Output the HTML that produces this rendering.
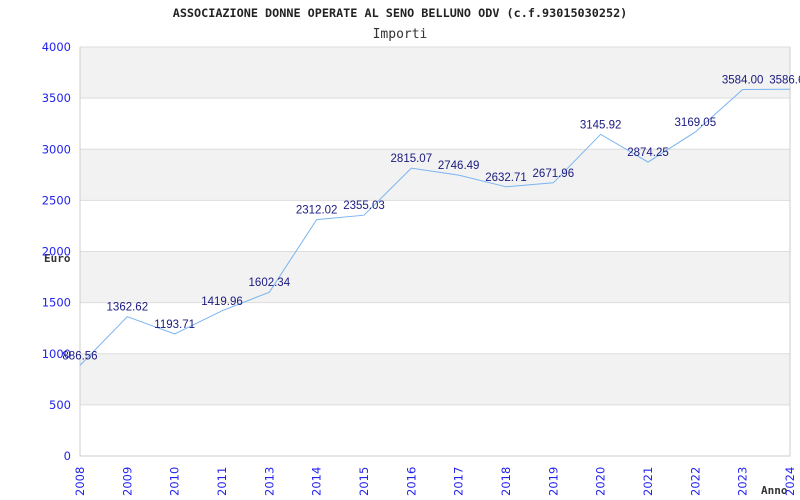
<!DOCTYPE html>
<html><head><meta charset="utf-8"><style>
body{margin:0;background:#fff}
svg{display:block}
</style></head><body>
<svg id="c" width="800" height="500" xmlns="http://www.w3.org/2000/svg">
<text x="400" y="17" text-anchor="middle" font-family="DejaVu Sans Mono, monospace" font-size="11.8" font-weight="bold" fill="#222">ASSOCIAZIONE DONNE OPERATE AL SENO BELLUNO ODV (c.f.93015030252)</text>
<text x="400" y="38" text-anchor="middle" font-family="DejaVu Sans Mono, monospace" font-size="13" fill="#333">Importi</text>
<text x="44" y="262" font-family="DejaVu Sans Mono, monospace" font-size="11" font-weight="bold" fill="#333">Euro</text>
<text x="761" y="494" font-family="DejaVu Sans Mono, monospace" font-size="11" font-weight="bold" fill="#333">Anno</text>
<g id="plot"></g>
</svg>
<script>
const years=["2008","2009","2010","2011","2013","2014","2015","2016","2017","2018","2019","2020","2021","2022","2023","2024"];
const values=[886.56,1362.62,1193.71,1419.96,1602.34,2312.02,2355.03,2815.07,2746.49,2632.71,2671.96,3145.92,2874.25,3169.05,3584.00,3586.60];
const yTicks=[0,500,1000,1500,2000,2500,3000,3500,4000];
const L=80,R=790,T=47,B=456,yMax=4000;
const xs=i=>L+i*(R-L)/(years.length-1);
const ys=v=>B-v/yMax*(B-T);
const NS="http://www.w3.org/2000/svg";
const g=document.getElementById('plot');
function mk(t,a,p){const e=document.createElementNS(NS,t);for(const k in a)e.setAttribute(k,a[k]);(p||g).appendChild(e);return e;}
for(let i=0;i<yTicks.length-1;i++){
  if(i%2===1){const r=mk('rect',{x:L,y:ys(yTicks[i+1]),width:R-L,height:ys(yTicks[i])-ys(yTicks[i+1]),fill:'#f2f2f2'});
  
  }
}
yTicks.forEach(v=>{
  const l=mk('line',{x1:L,x2:R,y1:ys(v),y2:ys(v),stroke:'#ddd','stroke-width':1});
  
  
  const t=mk('text',{x:71,y:ys(v)+4,'text-anchor':'end','font-family':'DejaVu Sans, sans-serif','font-size':11.5,fill:'#2222ee'});
  t.textContent=v;
  
  
});
const ax=mk('path',{d:`M${L},${T}V${B}H${R}V${T}`,fill:'none',stroke:'#ccc','stroke-width':1});


years.forEach((y,i)=>{
  const t=mk('text',{transform:`translate(${xs(i)+4},${496}) rotate(-90)`,'font-family':'DejaVu Sans, sans-serif','font-size':11.5,fill:'#2222ee'});
  t.textContent=y;
  
  
});
const line=mk('polyline',{points:values.map((v,i)=>xs(i)+','+ys(v)).join(' '),fill:'none',stroke:'#7ab4f0','stroke-width':1});


values.forEach((v,i)=>{
  const t=mk('text',{x:xs(i),y:ys(v)-6,'text-anchor':'middle','font-family':'Liberation Sans, sans-serif','font-size':11.5,fill:'#1a1a80'});
  t.textContent=v.toFixed(2);
  
  
});
</script>
</body></html>
